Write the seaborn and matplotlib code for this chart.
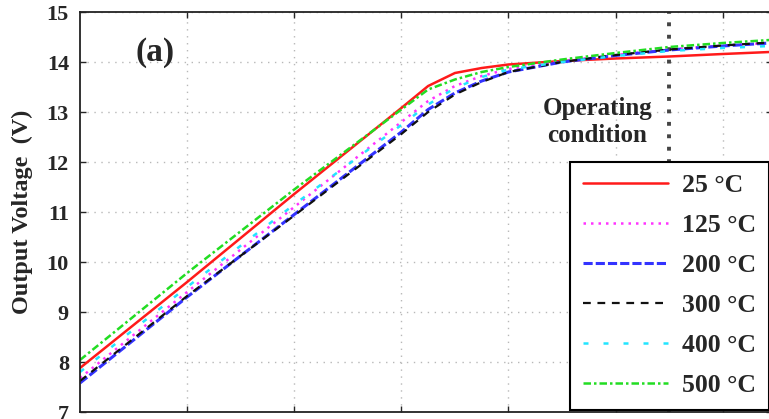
import numpy as np
import pandas as pd
import matplotlib
matplotlib.use('Agg')
import matplotlib.pyplot as plt
import seaborn as sns

# valores (eje x sin etiquetas, unidades de las marcas)
x_vals = [0, 1, 2, 3, 3.25, 3.5, 3.75, 4, 4.5, 5, 5.5, 6, 6.44]
v_25 = [7.88, 9.6, 11.36, 13.08, 13.52, 13.78, 13.88, 13.95, 14.02, 14.07, 14.11, 14.16, 14.2]
v_125 = [7.68, 9.4, 11.1, 12.8, 13.22, 13.52, 13.72, 13.86, 14.02, 14.14, 14.25, 14.33, 14.38]
v_200 = [7.58, 9.3, 10.95, 12.6, 13.05, 13.38, 13.62, 13.8, 14.0, 14.13, 14.24, 14.32, 14.38]
v_300 = [7.62, 9.32, 10.93, 12.56, 13.0, 13.35, 13.6, 13.8, 14.0, 14.14, 14.25, 14.33, 14.39]
v_400 = [7.8, 9.5, 11.15, 12.74, 13.15, 13.48, 13.7, 13.85, 14.0, 14.12, 14.22, 14.28, 14.32]
v_500 = [8.04, 9.78, 11.45, 13.05, 13.45, 13.65, 13.8, 13.9, 14.05, 14.18, 14.3, 14.38, 14.44]
labels = ['25 °C', '125 °C', '200 °C', '300 °C', '400 °C', '500 °C']
y_ticks = [7, 8, 9, 10, 11, 12, 13, 14, 15]
x_ticks = [1, 2, 3, 4, 5, 6]
x_operating = 5.5

series = [v_25, v_125, v_200, v_300, v_400, v_500]
colores = ['#ff1a1a', '#ff33ff', '#3333ff', '#111111', '#22e5ff', '#22dd22']
estilos = ['-', (0, (1, 2)), (0, (3, 1)), (0, (3.5, 3)), (0, (2, 6)), (0, (3, 1.2, 1, 1.2))]
anchos = [1.8, 1.8, 2.2, 1.6, 1.8, 1.8]

sns.set_style('ticks')
plt.rcParams['font.family'] = ['Liberation Serif', 'DejaVu Serif']
plt.rcParams['font.weight'] = 'bold'

fig = plt.figure(figsize=(7.69, 4.19), dpi=100)
ax = fig.add_axes([80 / 769, 7 / 419, 692 / 769, 400 / 419])

for vals, lab, c, ls, lw in zip(series, labels, colores, estilos, anchos):
    df = pd.DataFrame({'x': x_vals, 'v': vals})
    sns.lineplot(data=df, x='x', y='v', ax=ax, color=c, linestyle=ls, linewidth=lw, label=lab)

# linea de condicion de operacion
ax.axvline(x_operating, color='#444444', linestyle=(0, (1, 2.2)), linewidth=2.8, zorder=1)
ax.text(4.83, 12.8, 'Operating\ncondition', ha='center', va='center',
        fontsize=18, fontweight='bold', linespacing=1.25)
ax.text(0.7, 14.2, '(a)', ha='center', va='center', fontsize=24, fontweight='bold')

ax.set_xlim(0, 6.46)
ax.set_ylim(7, 15)
ax.set_xticks(x_ticks)
ax.set_xticklabels([])
ax.set_yticks(y_ticks)
ax.set_yticklabels([str(t) for t in y_ticks], fontsize=16, fontweight='bold')
ax.set_xlabel('')
ax.set_ylabel('Output Voltage  (V)', fontsize=17.5, fontweight='bold')
ax.yaxis.set_label_coords(-0.068, 0.5)
ax.tick_params(direction='in', length=4, width=1, top=True, right=True, pad=8)
ax.grid(True, color='#b8b8b8', linestyle=(0, (1, 4)), linewidth=1)
for s in ax.spines.values():
    s.set_linewidth(1.3)
    s.set_color('#222222')

leg = ax.legend(loc='lower right', bbox_to_anchor=(0.995, 0.005), fontsize=18.5, frameon=True,
                fancybox=False, framealpha=1, edgecolor='black', handlelength=3.3,
                labelspacing=0.66, borderpad=0.5, handletextpad=0.55, borderaxespad=0)
leg.get_frame().set_linewidth(1.5)
for t in leg.get_texts():
    t.set_fontweight('bold')

fig.savefig('out.png', dpi=100)
plt.close()
